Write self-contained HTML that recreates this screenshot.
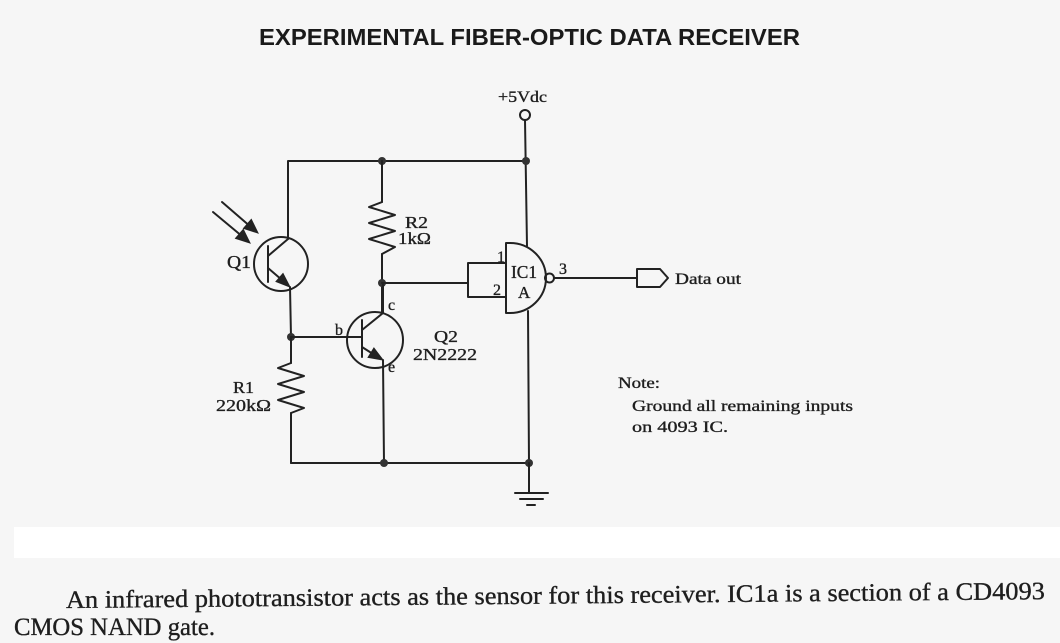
<!DOCTYPE html>
<html>
<head>
<meta charset="utf-8">
<style>
  html,body{margin:0;padding:0;background:#f6f6f6;}
  svg{display:block;}
  .w{stroke:#222;stroke-width:2;fill:none;stroke-linejoin:round;stroke-linecap:round;}
  .s{font-family:"Liberation Serif",serif;fill:#1e1e1e;stroke:#1e1e1e;stroke-width:0.35;}
</style>
</head>
<body>
<svg width="1060" height="643" viewBox="0 0 1060 643" xmlns="http://www.w3.org/2000/svg">
  <rect x="0" y="0" width="1060" height="643" fill="#f6f6f6"/>
  <rect x="14" y="527" width="1046" height="31" fill="#ffffff"/>

  <!-- Title -->
  <text x="259" y="45" font-family="Liberation Sans, sans-serif" font-weight="bold" font-size="23" fill="#1a1a1a" textLength="541" lengthAdjust="spacingAndGlyphs">EXPERIMENTAL FIBER-OPTIC DATA RECEIVER</text>

  <!-- Supply -->
  <text class="s" x="498" y="102" font-size="16" textLength="49" lengthAdjust="spacingAndGlyphs">+5Vdc</text>
  <circle cx="525" cy="115" r="5" class="w"/>
  <line x1="525" y1="120" x2="527" y2="246" class="w"/>

  <!-- top rail -->
  <polyline points="288,239 288,161 526,161" class="w"/>
  <circle cx="382" cy="161" r="4" fill="#333"/>
  <circle cx="526" cy="161" r="4" fill="#333"/>

  <!-- R2 -->
  <line x1="382" y1="161" x2="382" y2="202" class="w"/>
  <polyline points="382,202 369,207 395,215 369,223 395,231 369,239 395,247 382,254" class="w"/>
  <line x1="382" y1="254" x2="382" y2="313" class="w"/>
  <circle cx="382" cy="283" r="4" fill="#333"/>
  <text class="s" x="405" y="228" font-size="17" textLength="23" lengthAdjust="spacingAndGlyphs">R2</text>
  <text class="s" x="398" y="244" font-size="17" textLength="33" lengthAdjust="spacingAndGlyphs">1kΩ</text>

  <!-- wire to gate inputs -->
  <line x1="382" y1="283" x2="468" y2="283" class="w"/>
  <polyline points="506,263 468,263 468,297 506,297" class="w"/>

  <!-- NAND gate -->
  <path d="M506,243 L510,243 A36 35 0 0 1 510,313 L506,313 Z" class="w"/>
  <circle cx="549.5" cy="278" r="4.5" class="w"/>
  <line x1="554" y1="278" x2="637" y2="278" class="w"/>
  <path d="M637,269 L660,269 L668,278 L660,287 L637,287 Z" class="w"/>
  <text class="s" x="497" y="262" font-size="16">1</text>
  <text class="s" x="493" y="295" font-size="16">2</text>
  <text class="s" x="559" y="274" font-size="16">3</text>
  <text class="s" x="511" y="278" font-size="18" textLength="26" lengthAdjust="spacingAndGlyphs">IC1</text>
  <text class="s" x="518" y="298" font-size="17">A</text>
  <text class="s" x="675" y="284" font-size="16" textLength="66" lengthAdjust="spacingAndGlyphs">Data out</text>

  <!-- gate ground side -->
  <line x1="528" y1="311" x2="529" y2="463" class="w"/>

  <!-- Q1 phototransistor -->
  <circle cx="281" cy="264" r="27" class="w"/>
  <line x1="268" y1="246" x2="268" y2="282" class="w"/>
  <line x1="288" y1="239" x2="268" y2="256" class="w"/>
  <line x1="268" y1="268" x2="282" y2="280" class="w"/>
  <polygon points="290,287 276,281.5 283,273.5" fill="#222" stroke="#222" stroke-width="1"/>
  <line x1="290" y1="287" x2="291" y2="337" class="w"/>
  <text class="s" x="227" y="268" font-size="18" textLength="24" lengthAdjust="spacingAndGlyphs">Q1</text>
  <!-- light arrows -->
  <line x1="222" y1="202" x2="248" y2="224.5" class="w"/>
  <polygon points="258,233 243.5,228.4 251.3,219.4" fill="#222" stroke="#222" stroke-width="1"/>
  <line x1="213" y1="212" x2="240" y2="234.5" class="w"/>
  <polygon points="250,243 235.5,238.4 243.3,229.4" fill="#222" stroke="#222" stroke-width="1"/>

  <!-- base junction -->
  <circle cx="291" cy="337" r="4" fill="#333"/>
  <line x1="291" y1="337" x2="362" y2="337" class="w"/>

  <!-- R1 -->
  <line x1="291" y1="337" x2="291" y2="363" class="w"/>
  <polyline points="291,363 278,368 304,376 278,384 304,392 278,400 304,408 291,413" class="w"/>
  <line x1="291" y1="413" x2="291" y2="463" class="w"/>
  <text class="s" x="233" y="393" font-size="17" textLength="21" lengthAdjust="spacingAndGlyphs">R1</text>
  <text class="s" x="216" y="411" font-size="17" textLength="55" lengthAdjust="spacingAndGlyphs">220kΩ</text>

  <!-- Q2 -->
  <circle cx="375" cy="340" r="28" class="w"/>
  <line x1="362" y1="320" x2="362" y2="357" class="w"/>
  <polyline points="362,330 383,313 383,283" class="w"/>
  <line x1="362" y1="347" x2="373" y2="354" class="w"/>
  <polygon points="383,360 368.1,357.4 373.9,348" fill="#222" stroke="#222" stroke-width="1"/>
  <line x1="383" y1="360" x2="384" y2="463" class="w"/>
  <text class="s" x="388" y="310" font-size="16">c</text>
  <text class="s" x="335" y="335" font-size="16">b</text>
  <text class="s" x="388" y="372" font-size="16">e</text>
  <text class="s" x="434" y="342" font-size="17" textLength="24" lengthAdjust="spacingAndGlyphs">Q2</text>
  <text class="s" x="413" y="360" font-size="17" textLength="64" lengthAdjust="spacingAndGlyphs">2N2222</text>

  <!-- bottom rail -->
  <line x1="291" y1="463" x2="529" y2="463" class="w"/>
  <circle cx="384" cy="463" r="4" fill="#333"/>
  <circle cx="529" cy="463" r="4" fill="#333"/>
  <line x1="529" y1="463" x2="529" y2="493" class="w"/>
  <line x1="515" y1="493" x2="548" y2="493" class="w"/>
  <line x1="520" y1="499" x2="543" y2="499" class="w"/>
  <line x1="527" y1="505" x2="535" y2="505" class="w" stroke-width="2.5"/>

  <!-- Note -->
  <text class="s" x="618" y="388" font-size="16" textLength="42" lengthAdjust="spacingAndGlyphs">Note:</text>
  <text class="s" x="632" y="411" font-size="16" textLength="221" lengthAdjust="spacingAndGlyphs">Ground all remaining inputs</text>
  <text class="s" x="632" y="432" font-size="16" textLength="96" lengthAdjust="spacingAndGlyphs">on 4093 IC.</text>

  <!-- caption -->
  <g transform="rotate(-0.52 66 608)">
    <text class="s" x="66" y="608" font-size="25" textLength="979" lengthAdjust="spacingAndGlyphs" stroke-width="0.2">An infrared phototransistor acts as the sensor for this receiver. IC1a is a section of a CD4093</text>
  </g>
  <text class="s" x="14" y="635" font-size="25" textLength="201" lengthAdjust="spacingAndGlyphs" stroke-width="0.2">CMOS NAND gate.</text>
</svg>
</body>
</html>
